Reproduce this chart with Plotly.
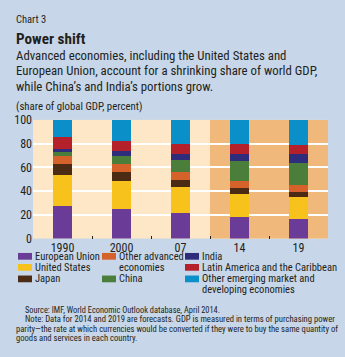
import plotly.graph_objects as go

# Share of global GDP (PPP), percent
years = ["1990", "2000", "07", "14", "19"]
eu = [27.8, 25.1, 21.8, 18.1, 16.2]
us = [25.6, 23.4, 21.3, 19.1, 18.8]
japan = [9.4, 7.6, 6.5, 5.4, 4.4]
other_adv = [6.7, 6.7, 6.5, 6.2, 5.6]
china = [3.5, 7.0, 10.2, 16.2, 18.6]
india = [2.7, 3.8, 5.1, 5.9, 7.3]
latam = [9.7, 8.6, 8.7, 8.6, 8.1]
other_em = [14.6, 17.8, 19.9, 20.5, 21.0]
forecast_years = ["14", "19"]
y_ticks = [0, 20, 40, 60, 80, 100]

W, H = 345, 357
FONT = "Liberation Sans Narrow, Roboto Condensed, Liberation Sans, sans-serif"
BG = "#c7d6e8"
INK = "#231f20"

series = [
    (["European Union"], eu, "#6a3b97"),
    (["United States"], us, "#f6c21b"),
    (["Japan"], japan, "#4b2b13"),
    (["Other advanced", "economies"], other_adv, "#d5612b"),
    (["China"], china, "#4b7e3b"),
    (["India"], india, "#2f2d7b"),
    (["Latin America and the Caribbean"], latam, "#b5212b"),
    (["Other emerging market and", "developing economies"], other_em, "#0b8fc8"),
]

fig = go.Figure()
for lines, vals, color in series:
    fig.add_trace(go.Bar(x=years, y=vals, name=" ".join(lines), marker_color=color,
                         marker_line_width=0, width=0.31, showlegend=False))


def px(x):
    return x / W


def py(y):
    return 1 - y / H


# forecast period shading
fig.add_shape(type="rect", xref="x", yref="paper",
              x0=years.index(forecast_years[0]) - 0.5,
              x1=years.index(forecast_years[-1]) + 0.5,
              y0=py(241), y1=py(117.5), fillcolor="#f0b87b",
              line_width=0, layer="below")

annotations = []


def text(x, y, s, size, bold=False):
    annotations.append(dict(xref="paper", yref="paper", x=px(x), y=py(y),
                            text=f"<b>{s}</b>" if bold else s, showarrow=False,
                            xanchor="left", yanchor="middle", align="left",
                            borderpad=0,
                            font=dict(family=FONT, size=size, color=INK)))


text(15, 13, "Chart 3", 10.5)
text(15, 33, "Power shift", 15.2, bold=True)
text(15, 50, "Advanced economies, including the United States and", 12.8)
text(15, 66.5, "European Union, account for a shrinking share of world GDP,", 12.8)
text(15, 83, "while China’s and India’s portions grow.", 12.8)
text(15, 103.5, "(share of global GDP, percent)", 10.8)

# legend, three columns
ROW = 11.5
legend_pos = [
    (18, 259.5), (18, 271), (18, 283),
    (102, 259.5), (102, 283),
    (185, 259.5), (185, 271), (185, 283),
]
for (lines, vals, color), (lx, ly) in zip(series, legend_pos):
    fig.add_shape(type="rect", xref="paper", yref="paper",
                  x0=px(lx), x1=px(lx + 14), y0=py(ly + 3.5), y1=py(ly - 3.5),
                  fillcolor=color, line_width=0)
    for i, line in enumerate(lines):
        text(lx + 15.5, ly + i * ROW, line, 10.5)

text(24, 315, "Source: IMF, World Economic Outlook database, April 2014.", 8.4)
text(24, 325, "Note: Data for 2014 and 2019 are forecasts. GDP is measured in terms of purchasing power", 8.6)
text(15, 335, "parity—the rate at which currencies would be converted if they were to buy the same quantity of", 8.6)
text(15, 344.5, "goods and services in each country.", 8.6)

fig.update_layout(
    width=W, height=H, barmode="stack",
    margin=dict(l=0, r=0, t=0, b=0),
    paper_bgcolor=BG, plot_bgcolor="#fde7c6",
    font=dict(family=FONT, size=11, color=INK),
    annotations=annotations,
    xaxis=dict(domain=[px(33), px(328)], type="category", showgrid=False,
               ticks="inside", tickson="boundaries", ticklen=3, tickwidth=1,
               tickcolor=INK, tickfont=dict(size=12), showline=False,
               ticklabelstandoff=0, fixedrange=True),
    yaxis=dict(domain=[py(241), py(117.5)], range=[0, 100], tickvals=y_ticks,
               showgrid=True, gridcolor="white", gridwidth=2, zeroline=False,
               showline=False, ticks="", tickfont=dict(size=12), fixedrange=True),
)

fig.write_html("out.html")
